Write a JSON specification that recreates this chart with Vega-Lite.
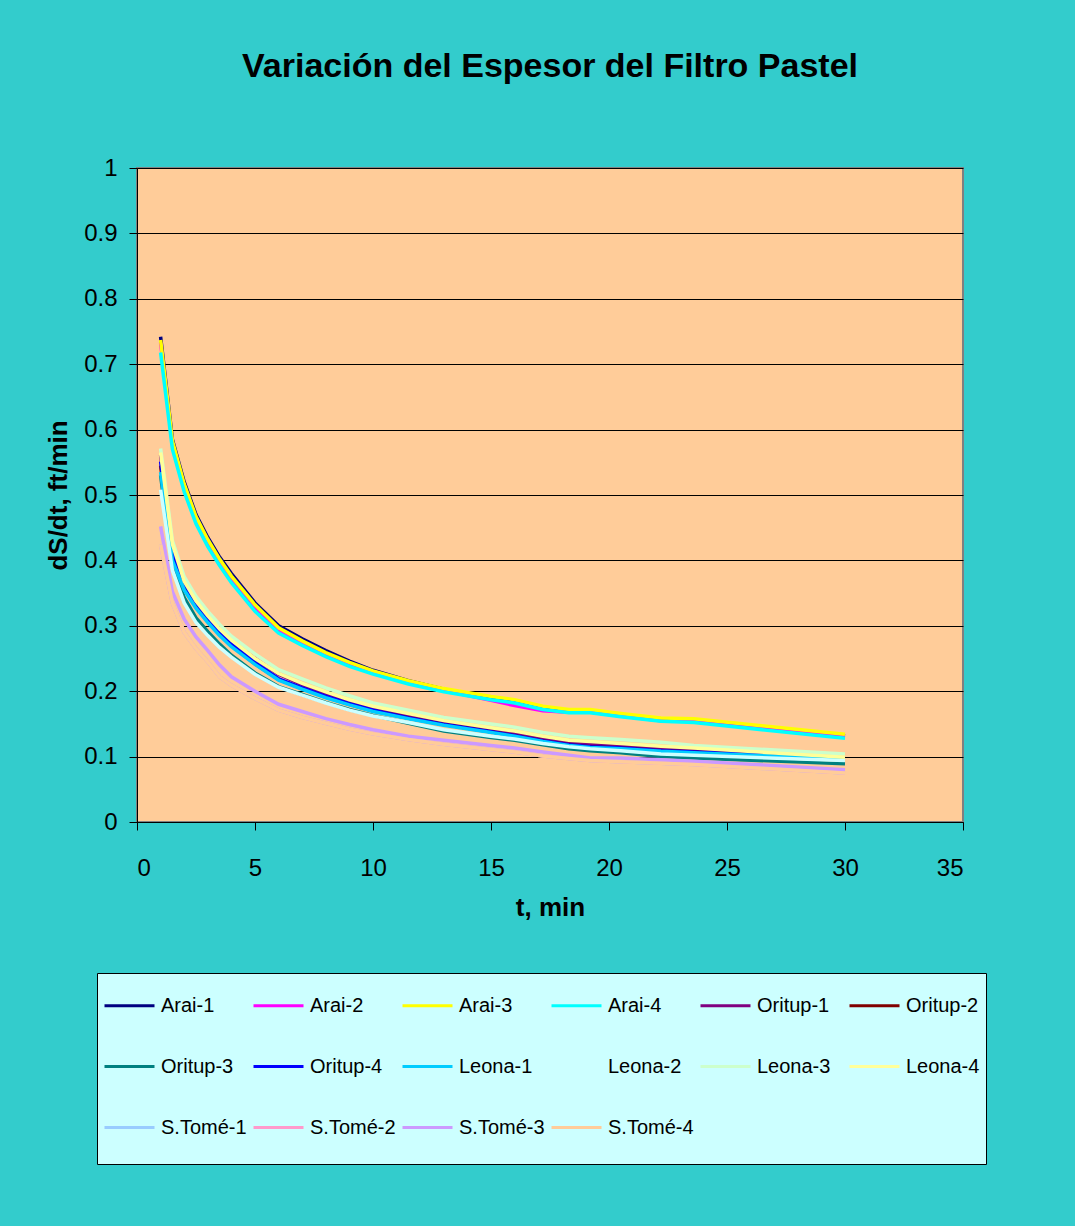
{
  "$schema": "https://vega.github.io/schema/vega-lite/v6.json",
  "width": 826,
  "height": 654,
  "autosize": {"type": "none"},
  "padding": {"left": 137, "top": 168, "right": 112, "bottom": 404},
  "background": "#33CCCC",
  "title": {
    "text": "Variación del Espesor del Filtro Pastel",
    "font": "Liberation Sans",
    "fontSize": 34,
    "fontWeight": "bold",
    "color": "#000000",
    "anchor": "middle",
    "frame": "group",
    "offset": 72
  },
  "data": {
    "values": [
      {"s": "Arai-1", "t": 1, "v": 0.742}, {"s": "Arai-1", "t": 1.5, "v": 0.585}, {"s": "Arai-1", "t": 2, "v": 0.52}, {"s": "Arai-1", "t": 2.5, "v": 0.47}, {"s": "Arai-1", "t": 3, "v": 0.435}, {"s": "Arai-1", "t": 3.5, "v": 0.405}, {"s": "Arai-1", "t": 4, "v": 0.38}, {"s": "Arai-1", "t": 5, "v": 0.335}, {"s": "Arai-1", "t": 6, "v": 0.3}, {"s": "Arai-1", "t": 7, "v": 0.28}, {"s": "Arai-1", "t": 8, "v": 0.262}, {"s": "Arai-1", "t": 9, "v": 0.246}, {"s": "Arai-1", "t": 10, "v": 0.232}, {"s": "Arai-1", "t": 11.5, "v": 0.216}, {"s": "Arai-1", "t": 13, "v": 0.203}, {"s": "Arai-1", "t": 15, "v": 0.19}, {"s": "Arai-1", "t": 16, "v": 0.185}, {"s": "Arai-1", "t": 17.2, "v": 0.175}, {"s": "Arai-1", "t": 18.3, "v": 0.17}, {"s": "Arai-1", "t": 19.2, "v": 0.17}, {"s": "Arai-1", "t": 20.5, "v": 0.164}, {"s": "Arai-1", "t": 22.2, "v": 0.157}, {"s": "Arai-1", "t": 23.6, "v": 0.156}, {"s": "Arai-1", "t": 30, "v": 0.132},

      {"s": "Arai-2", "t": 1, "v": 0.733}, {"s": "Arai-2", "t": 1.5, "v": 0.578}, {"s": "Arai-2", "t": 2, "v": 0.512}, {"s": "Arai-2", "t": 2.5, "v": 0.462}, {"s": "Arai-2", "t": 3, "v": 0.427}, {"s": "Arai-2", "t": 3.5, "v": 0.397}, {"s": "Arai-2", "t": 4, "v": 0.371}, {"s": "Arai-2", "t": 5, "v": 0.327}, {"s": "Arai-2", "t": 6, "v": 0.293}, {"s": "Arai-2", "t": 7, "v": 0.273}, {"s": "Arai-2", "t": 8, "v": 0.256}, {"s": "Arai-2", "t": 9, "v": 0.241}, {"s": "Arai-2", "t": 10, "v": 0.228}, {"s": "Arai-2", "t": 11.5, "v": 0.213}, {"s": "Arai-2", "t": 13, "v": 0.201}, {"s": "Arai-2", "t": 15, "v": 0.186}, {"s": "Arai-2", "t": 16, "v": 0.178}, {"s": "Arai-2", "t": 17.2, "v": 0.17}, {"s": "Arai-2", "t": 18.3, "v": 0.168}, {"s": "Arai-2", "t": 19.2, "v": 0.168}, {"s": "Arai-2", "t": 20.5, "v": 0.162}, {"s": "Arai-2", "t": 22.2, "v": 0.155}, {"s": "Arai-2", "t": 23.6, "v": 0.154}, {"s": "Arai-2", "t": 30, "v": 0.13},

      {"s": "Arai-3", "t": 1, "v": 0.737}, {"s": "Arai-3", "t": 1.5, "v": 0.583}, {"s": "Arai-3", "t": 2, "v": 0.517}, {"s": "Arai-3", "t": 2.5, "v": 0.467}, {"s": "Arai-3", "t": 3, "v": 0.432}, {"s": "Arai-3", "t": 3.5, "v": 0.402}, {"s": "Arai-3", "t": 4, "v": 0.376}, {"s": "Arai-3", "t": 5, "v": 0.332}, {"s": "Arai-3", "t": 6, "v": 0.297}, {"s": "Arai-3", "t": 7, "v": 0.277}, {"s": "Arai-3", "t": 8, "v": 0.259}, {"s": "Arai-3", "t": 9, "v": 0.244}, {"s": "Arai-3", "t": 10, "v": 0.231}, {"s": "Arai-3", "t": 11.5, "v": 0.216}, {"s": "Arai-3", "t": 13, "v": 0.204}, {"s": "Arai-3", "t": 15, "v": 0.192}, {"s": "Arai-3", "t": 16, "v": 0.187}, {"s": "Arai-3", "t": 17.2, "v": 0.177}, {"s": "Arai-3", "t": 18.3, "v": 0.172}, {"s": "Arai-3", "t": 19.2, "v": 0.172}, {"s": "Arai-3", "t": 20.5, "v": 0.166}, {"s": "Arai-3", "t": 22.2, "v": 0.159}, {"s": "Arai-3", "t": 23.6, "v": 0.158}, {"s": "Arai-3", "t": 30, "v": 0.134},

      {"s": "Arai-4", "t": 1, "v": 0.718}, {"s": "Arai-4", "t": 1.5, "v": 0.57}, {"s": "Arai-4", "t": 2, "v": 0.505}, {"s": "Arai-4", "t": 2.5, "v": 0.456}, {"s": "Arai-4", "t": 3, "v": 0.421}, {"s": "Arai-4", "t": 3.5, "v": 0.392}, {"s": "Arai-4", "t": 4, "v": 0.366}, {"s": "Arai-4", "t": 5, "v": 0.322}, {"s": "Arai-4", "t": 6, "v": 0.289}, {"s": "Arai-4", "t": 7, "v": 0.27}, {"s": "Arai-4", "t": 8, "v": 0.253}, {"s": "Arai-4", "t": 9, "v": 0.238}, {"s": "Arai-4", "t": 10, "v": 0.226}, {"s": "Arai-4", "t": 11.5, "v": 0.211}, {"s": "Arai-4", "t": 13, "v": 0.199}, {"s": "Arai-4", "t": 15, "v": 0.187}, {"s": "Arai-4", "t": 16, "v": 0.182}, {"s": "Arai-4", "t": 17.2, "v": 0.172}, {"s": "Arai-4", "t": 18.3, "v": 0.167}, {"s": "Arai-4", "t": 19.2, "v": 0.167}, {"s": "Arai-4", "t": 20.5, "v": 0.161}, {"s": "Arai-4", "t": 22.2, "v": 0.154}, {"s": "Arai-4", "t": 23.6, "v": 0.152}, {"s": "Arai-4", "t": 30, "v": 0.128},

      {"s": "Oritup-1", "t": 1, "v": 0.561}, {"s": "Oritup-1", "t": 1.5, "v": 0.42}, {"s": "Oritup-1", "t": 2, "v": 0.365}, {"s": "Oritup-1", "t": 2.5, "v": 0.335}, {"s": "Oritup-1", "t": 3, "v": 0.312}, {"s": "Oritup-1", "t": 3.5, "v": 0.292}, {"s": "Oritup-1", "t": 4, "v": 0.276}, {"s": "Oritup-1", "t": 5, "v": 0.25}, {"s": "Oritup-1", "t": 6, "v": 0.226}, {"s": "Oritup-1", "t": 7, "v": 0.21}, {"s": "Oritup-1", "t": 8, "v": 0.196}, {"s": "Oritup-1", "t": 9, "v": 0.185}, {"s": "Oritup-1", "t": 10, "v": 0.175}, {"s": "Oritup-1", "t": 11.5, "v": 0.163}, {"s": "Oritup-1", "t": 13, "v": 0.152}, {"s": "Oritup-1", "t": 15, "v": 0.141}, {"s": "Oritup-1", "t": 16, "v": 0.136}, {"s": "Oritup-1", "t": 17.2, "v": 0.128}, {"s": "Oritup-1", "t": 18.3, "v": 0.122}, {"s": "Oritup-1", "t": 19.2, "v": 0.119}, {"s": "Oritup-1", "t": 20.5, "v": 0.116}, {"s": "Oritup-1", "t": 22.2, "v": 0.112}, {"s": "Oritup-1", "t": 23.6, "v": 0.11}, {"s": "Oritup-1", "t": 30, "v": 0.098},

      {"s": "Oritup-2", "t": 1, "v": 0.545}, {"s": "Oritup-2", "t": 1.5, "v": 0.405}, {"s": "Oritup-2", "t": 2, "v": 0.358}, {"s": "Oritup-2", "t": 2.5, "v": 0.329}, {"s": "Oritup-2", "t": 3, "v": 0.307}, {"s": "Oritup-2", "t": 3.5, "v": 0.287}, {"s": "Oritup-2", "t": 4, "v": 0.27}, {"s": "Oritup-2", "t": 5, "v": 0.242}, {"s": "Oritup-2", "t": 6, "v": 0.218}, {"s": "Oritup-2", "t": 7, "v": 0.204}, {"s": "Oritup-2", "t": 8, "v": 0.191}, {"s": "Oritup-2", "t": 9, "v": 0.18}, {"s": "Oritup-2", "t": 10, "v": 0.17}, {"s": "Oritup-2", "t": 11.5, "v": 0.159}, {"s": "Oritup-2", "t": 13, "v": 0.149}, {"s": "Oritup-2", "t": 15, "v": 0.138}, {"s": "Oritup-2", "t": 16, "v": 0.132}, {"s": "Oritup-2", "t": 17.2, "v": 0.124}, {"s": "Oritup-2", "t": 18.3, "v": 0.118}, {"s": "Oritup-2", "t": 19.2, "v": 0.115}, {"s": "Oritup-2", "t": 20.5, "v": 0.113}, {"s": "Oritup-2", "t": 22.2, "v": 0.109}, {"s": "Oritup-2", "t": 23.6, "v": 0.107}, {"s": "Oritup-2", "t": 30, "v": 0.097},

      {"s": "Oritup-3", "t": 1, "v": 0.53}, {"s": "Oritup-3", "t": 1.5, "v": 0.39}, {"s": "Oritup-3", "t": 2, "v": 0.343}, {"s": "Oritup-3", "t": 2.5, "v": 0.312}, {"s": "Oritup-3", "t": 3, "v": 0.291}, {"s": "Oritup-3", "t": 3.5, "v": 0.272}, {"s": "Oritup-3", "t": 4, "v": 0.255}, {"s": "Oritup-3", "t": 5, "v": 0.228}, {"s": "Oritup-3", "t": 6, "v": 0.207}, {"s": "Oritup-3", "t": 7, "v": 0.195}, {"s": "Oritup-3", "t": 8, "v": 0.183}, {"s": "Oritup-3", "t": 9, "v": 0.172}, {"s": "Oritup-3", "t": 10, "v": 0.163}, {"s": "Oritup-3", "t": 11.5, "v": 0.151}, {"s": "Oritup-3", "t": 13, "v": 0.139}, {"s": "Oritup-3", "t": 15, "v": 0.129}, {"s": "Oritup-3", "t": 16, "v": 0.125}, {"s": "Oritup-3", "t": 17.2, "v": 0.118}, {"s": "Oritup-3", "t": 18.3, "v": 0.112}, {"s": "Oritup-3", "t": 19.2, "v": 0.109}, {"s": "Oritup-3", "t": 20.5, "v": 0.106}, {"s": "Oritup-3", "t": 22.2, "v": 0.1}, {"s": "Oritup-3", "t": 23.6, "v": 0.098}, {"s": "Oritup-3", "t": 30, "v": 0.089},

      {"s": "Oritup-4", "t": 1, "v": 0.551}, {"s": "Oritup-4", "t": 1.5, "v": 0.41}, {"s": "Oritup-4", "t": 2, "v": 0.365}, {"s": "Oritup-4", "t": 2.5, "v": 0.333}, {"s": "Oritup-4", "t": 3, "v": 0.31}, {"s": "Oritup-4", "t": 3.5, "v": 0.29}, {"s": "Oritup-4", "t": 4, "v": 0.272}, {"s": "Oritup-4", "t": 5, "v": 0.244}, {"s": "Oritup-4", "t": 6, "v": 0.219}, {"s": "Oritup-4", "t": 7, "v": 0.205}, {"s": "Oritup-4", "t": 8, "v": 0.192}, {"s": "Oritup-4", "t": 9, "v": 0.181}, {"s": "Oritup-4", "t": 10, "v": 0.171}, {"s": "Oritup-4", "t": 11.5, "v": 0.159}, {"s": "Oritup-4", "t": 13, "v": 0.149}, {"s": "Oritup-4", "t": 15, "v": 0.138}, {"s": "Oritup-4", "t": 16, "v": 0.132}, {"s": "Oritup-4", "t": 17.2, "v": 0.124}, {"s": "Oritup-4", "t": 18.3, "v": 0.118}, {"s": "Oritup-4", "t": 19.2, "v": 0.115}, {"s": "Oritup-4", "t": 20.5, "v": 0.113}, {"s": "Oritup-4", "t": 22.2, "v": 0.109}, {"s": "Oritup-4", "t": 23.6, "v": 0.107}, {"s": "Oritup-4", "t": 30, "v": 0.097},

      {"s": "Leona-1", "t": 1, "v": 0.535}, {"s": "Leona-1", "t": 1.5, "v": 0.4}, {"s": "Leona-1", "t": 2, "v": 0.355}, {"s": "Leona-1", "t": 2.5, "v": 0.327}, {"s": "Leona-1", "t": 3, "v": 0.305}, {"s": "Leona-1", "t": 3.5, "v": 0.285}, {"s": "Leona-1", "t": 4, "v": 0.268}, {"s": "Leona-1", "t": 5, "v": 0.241}, {"s": "Leona-1", "t": 6, "v": 0.217}, {"s": "Leona-1", "t": 7, "v": 0.203}, {"s": "Leona-1", "t": 8, "v": 0.19}, {"s": "Leona-1", "t": 9, "v": 0.179}, {"s": "Leona-1", "t": 10, "v": 0.169}, {"s": "Leona-1", "t": 11.5, "v": 0.158}, {"s": "Leona-1", "t": 13, "v": 0.148}, {"s": "Leona-1", "t": 15, "v": 0.137}, {"s": "Leona-1", "t": 16, "v": 0.131}, {"s": "Leona-1", "t": 17.2, "v": 0.123}, {"s": "Leona-1", "t": 18.3, "v": 0.117}, {"s": "Leona-1", "t": 19.2, "v": 0.114}, {"s": "Leona-1", "t": 20.5, "v": 0.112}, {"s": "Leona-1", "t": 22.2, "v": 0.108}, {"s": "Leona-1", "t": 23.6, "v": 0.106}, {"s": "Leona-1", "t": 30, "v": 0.096},

      {"s": "Leona-2", "t": 1, "v": 0.508}, {"s": "Leona-2", "t": 1.5, "v": 0.385}, {"s": "Leona-2", "t": 2, "v": 0.335}, {"s": "Leona-2", "t": 2.5, "v": 0.305}, {"s": "Leona-2", "t": 3, "v": 0.285}, {"s": "Leona-2", "t": 3.5, "v": 0.267}, {"s": "Leona-2", "t": 4, "v": 0.252}, {"s": "Leona-2", "t": 5, "v": 0.226}, {"s": "Leona-2", "t": 6, "v": 0.206}, {"s": "Leona-2", "t": 7, "v": 0.194}, {"s": "Leona-2", "t": 8, "v": 0.182}, {"s": "Leona-2", "t": 9, "v": 0.171}, {"s": "Leona-2", "t": 10, "v": 0.162}, {"s": "Leona-2", "t": 11.5, "v": 0.152}, {"s": "Leona-2", "t": 13, "v": 0.141}, {"s": "Leona-2", "t": 15, "v": 0.131}, {"s": "Leona-2", "t": 16, "v": 0.127}, {"s": "Leona-2", "t": 17.2, "v": 0.12}, {"s": "Leona-2", "t": 18.3, "v": 0.115}, {"s": "Leona-2", "t": 19.2, "v": 0.112}, {"s": "Leona-2", "t": 20.5, "v": 0.109}, {"s": "Leona-2", "t": 22.2, "v": 0.104}, {"s": "Leona-2", "t": 23.6, "v": 0.102}, {"s": "Leona-2", "t": 30, "v": 0.094},

      {"s": "Leona-3", "t": 1, "v": 0.571}, {"s": "Leona-3", "t": 1.5, "v": 0.43}, {"s": "Leona-3", "t": 2, "v": 0.375}, {"s": "Leona-3", "t": 2.5, "v": 0.345}, {"s": "Leona-3", "t": 3, "v": 0.322}, {"s": "Leona-3", "t": 3.5, "v": 0.302}, {"s": "Leona-3", "t": 4, "v": 0.284}, {"s": "Leona-3", "t": 5, "v": 0.257}, {"s": "Leona-3", "t": 6, "v": 0.233}, {"s": "Leona-3", "t": 7, "v": 0.219}, {"s": "Leona-3", "t": 8, "v": 0.205}, {"s": "Leona-3", "t": 9, "v": 0.193}, {"s": "Leona-3", "t": 10, "v": 0.182}, {"s": "Leona-3", "t": 11.5, "v": 0.171}, {"s": "Leona-3", "t": 13, "v": 0.16}, {"s": "Leona-3", "t": 15, "v": 0.15}, {"s": "Leona-3", "t": 16, "v": 0.145}, {"s": "Leona-3", "t": 17.2, "v": 0.137}, {"s": "Leona-3", "t": 18.3, "v": 0.131}, {"s": "Leona-3", "t": 19.2, "v": 0.129}, {"s": "Leona-3", "t": 20.5, "v": 0.126}, {"s": "Leona-3", "t": 22.2, "v": 0.122}, {"s": "Leona-3", "t": 23.6, "v": 0.117}, {"s": "Leona-3", "t": 30, "v": 0.104},

      {"s": "Leona-4", "t": 1, "v": 0.565}, {"s": "Leona-4", "t": 1.5, "v": 0.425}, {"s": "Leona-4", "t": 2, "v": 0.368}, {"s": "Leona-4", "t": 2.5, "v": 0.338}, {"s": "Leona-4", "t": 3, "v": 0.315}, {"s": "Leona-4", "t": 3.5, "v": 0.295}, {"s": "Leona-4", "t": 4, "v": 0.278}, {"s": "Leona-4", "t": 5, "v": 0.25}, {"s": "Leona-4", "t": 6, "v": 0.227}, {"s": "Leona-4", "t": 7, "v": 0.212}, {"s": "Leona-4", "t": 8, "v": 0.199}, {"s": "Leona-4", "t": 9, "v": 0.187}, {"s": "Leona-4", "t": 10, "v": 0.177}, {"s": "Leona-4", "t": 11.5, "v": 0.166}, {"s": "Leona-4", "t": 13, "v": 0.155}, {"s": "Leona-4", "t": 15, "v": 0.144}, {"s": "Leona-4", "t": 16, "v": 0.139}, {"s": "Leona-4", "t": 17.2, "v": 0.131}, {"s": "Leona-4", "t": 18.3, "v": 0.125}, {"s": "Leona-4", "t": 19.2, "v": 0.123}, {"s": "Leona-4", "t": 20.5, "v": 0.12}, {"s": "Leona-4", "t": 22.2, "v": 0.116}, {"s": "Leona-4", "t": 23.6, "v": 0.113}, {"s": "Leona-4", "t": 30, "v": 0.099},

      {"s": "S.Tomé-1", "t": 1, "v": 0.424}, {"s": "S.Tomé-1", "t": 1.5, "v": 0.335}, {"s": "S.Tomé-1", "t": 2, "v": 0.29}, {"s": "S.Tomé-1", "t": 2.5, "v": 0.265}, {"s": "S.Tomé-1", "t": 3, "v": 0.245}, {"s": "S.Tomé-1", "t": 3.5, "v": 0.222}, {"s": "S.Tomé-1", "t": 4, "v": 0.209}, {"s": "S.Tomé-1", "t": 5, "v": 0.189}, {"s": "S.Tomé-1", "t": 6, "v": 0.171}, {"s": "S.Tomé-1", "t": 7, "v": 0.16}, {"s": "S.Tomé-1", "t": 8, "v": 0.151}, {"s": "S.Tomé-1", "t": 9, "v": 0.142}, {"s": "S.Tomé-1", "t": 10, "v": 0.135}, {"s": "S.Tomé-1", "t": 11.5, "v": 0.126}, {"s": "S.Tomé-1", "t": 13, "v": 0.119}, {"s": "S.Tomé-1", "t": 15, "v": 0.111}, {"s": "S.Tomé-1", "t": 16, "v": 0.107}, {"s": "S.Tomé-1", "t": 17.2, "v": 0.101}, {"s": "S.Tomé-1", "t": 18.3, "v": 0.097}, {"s": "S.Tomé-1", "t": 19.2, "v": 0.094}, {"s": "S.Tomé-1", "t": 20.5, "v": 0.092}, {"s": "S.Tomé-1", "t": 22.2, "v": 0.09}, {"s": "S.Tomé-1", "t": 23.6, "v": 0.088}, {"s": "S.Tomé-1", "t": 30, "v": 0.075},

      {"s": "S.Tomé-2", "t": 1, "v": 0.424}, {"s": "S.Tomé-2", "t": 1.5, "v": 0.335}, {"s": "S.Tomé-2", "t": 2, "v": 0.29}, {"s": "S.Tomé-2", "t": 2.5, "v": 0.265}, {"s": "S.Tomé-2", "t": 3, "v": 0.245}, {"s": "S.Tomé-2", "t": 3.5, "v": 0.222}, {"s": "S.Tomé-2", "t": 4, "v": 0.209}, {"s": "S.Tomé-2", "t": 5, "v": 0.189}, {"s": "S.Tomé-2", "t": 6, "v": 0.171}, {"s": "S.Tomé-2", "t": 7, "v": 0.16}, {"s": "S.Tomé-2", "t": 8, "v": 0.151}, {"s": "S.Tomé-2", "t": 9, "v": 0.142}, {"s": "S.Tomé-2", "t": 10, "v": 0.135}, {"s": "S.Tomé-2", "t": 11.5, "v": 0.126}, {"s": "S.Tomé-2", "t": 13, "v": 0.119}, {"s": "S.Tomé-2", "t": 15, "v": 0.111}, {"s": "S.Tomé-2", "t": 16, "v": 0.107}, {"s": "S.Tomé-2", "t": 17.2, "v": 0.101}, {"s": "S.Tomé-2", "t": 18.3, "v": 0.097}, {"s": "S.Tomé-2", "t": 19.2, "v": 0.094}, {"s": "S.Tomé-2", "t": 20.5, "v": 0.092}, {"s": "S.Tomé-2", "t": 22.2, "v": 0.09}, {"s": "S.Tomé-2", "t": 23.6, "v": 0.088}, {"s": "S.Tomé-2", "t": 30, "v": 0.075},

      {"s": "S.Tomé-3", "t": 1, "v": 0.452}, {"s": "S.Tomé-3", "t": 1.5, "v": 0.352}, {"s": "S.Tomé-3", "t": 2, "v": 0.31}, {"s": "S.Tomé-3", "t": 2.5, "v": 0.283}, {"s": "S.Tomé-3", "t": 3, "v": 0.262}, {"s": "S.Tomé-3", "t": 3.5, "v": 0.24}, {"s": "S.Tomé-3", "t": 4, "v": 0.222}, {"s": "S.Tomé-3", "t": 5, "v": 0.2}, {"s": "S.Tomé-3", "t": 6, "v": 0.18}, {"s": "S.Tomé-3", "t": 7, "v": 0.169}, {"s": "S.Tomé-3", "t": 8, "v": 0.158}, {"s": "S.Tomé-3", "t": 9, "v": 0.149}, {"s": "S.Tomé-3", "t": 10, "v": 0.141}, {"s": "S.Tomé-3", "t": 11.5, "v": 0.131}, {"s": "S.Tomé-3", "t": 13, "v": 0.125}, {"s": "S.Tomé-3", "t": 15, "v": 0.117}, {"s": "S.Tomé-3", "t": 16, "v": 0.113}, {"s": "S.Tomé-3", "t": 17.2, "v": 0.107}, {"s": "S.Tomé-3", "t": 18.3, "v": 0.102}, {"s": "S.Tomé-3", "t": 19.2, "v": 0.098}, {"s": "S.Tomé-3", "t": 20.5, "v": 0.098}, {"s": "S.Tomé-3", "t": 22.2, "v": 0.095}, {"s": "S.Tomé-3", "t": 23.6, "v": 0.093}, {"s": "S.Tomé-3", "t": 30, "v": 0.08},

      {"s": "S.Tomé-4", "t": 1, "v": 0.424}, {"s": "S.Tomé-4", "t": 1.5, "v": 0.335}, {"s": "S.Tomé-4", "t": 2, "v": 0.29}, {"s": "S.Tomé-4", "t": 2.5, "v": 0.265}, {"s": "S.Tomé-4", "t": 3, "v": 0.245}, {"s": "S.Tomé-4", "t": 3.5, "v": 0.222}, {"s": "S.Tomé-4", "t": 4, "v": 0.209}, {"s": "S.Tomé-4", "t": 5, "v": 0.189}, {"s": "S.Tomé-4", "t": 6, "v": 0.171}, {"s": "S.Tomé-4", "t": 7, "v": 0.16}, {"s": "S.Tomé-4", "t": 8, "v": 0.151}, {"s": "S.Tomé-4", "t": 9, "v": 0.142}, {"s": "S.Tomé-4", "t": 10, "v": 0.135}, {"s": "S.Tomé-4", "t": 11.5, "v": 0.126}, {"s": "S.Tomé-4", "t": 13, "v": 0.119}, {"s": "S.Tomé-4", "t": 15, "v": 0.111}, {"s": "S.Tomé-4", "t": 16, "v": 0.107}, {"s": "S.Tomé-4", "t": 17.2, "v": 0.101}, {"s": "S.Tomé-4", "t": 18.3, "v": 0.097}, {"s": "S.Tomé-4", "t": 19.2, "v": 0.094}, {"s": "S.Tomé-4", "t": 20.5, "v": 0.092}, {"s": "S.Tomé-4", "t": 22.2, "v": 0.09}, {"s": "S.Tomé-4", "t": 23.6, "v": 0.088}, {"s": "S.Tomé-4", "t": 30, "v": 0.075}
    ]
  },
  "mark": {"type": "line", "strokeWidth": 3.5, "clip": true},
  "encoding": {
    "x": {
      "field": "t",
      "type": "quantitative",
      "scale": {"domain": [0, 35], "nice": false, "zero": false},
      "axis": {
        "title": "t, min",
        "values": [0, 5, 10, 15, 20, 25, 30, 35],
        "grid": false,
        "domainColor": "#000000",
        "domainWidth": 1,
        "tickColor": "#000000",
        "tickSize": 8,
        "labelFont": "Liberation Sans",
        "labelFontSize": 24,
        "labelColor": "#000000",
        "labelPadding": 26,
        "titleFont": "Liberation Sans",
        "titleFontSize": 26,
        "titleFontWeight": "bold",
        "titleColor": "#000000",
        "titlePadding": 14
      }
    },
    "y": {
      "field": "v",
      "type": "quantitative",
      "scale": {"domain": [0, 1], "nice": false},
      "axis": {
        "title": "dS/dt, ft/min",
        "values": [0, 0.1, 0.2, 0.3, 0.4, 0.5, 0.6, 0.7, 0.8, 0.9, 1],
        "format": ".1~f",
        "grid": true,
        "gridColor": "#000000",
        "gridWidth": 1,
        "gridOpacity": 1,
        "domainColor": "#000000",
        "domainWidth": 1,
        "tickColor": "#000000",
        "tickSize": 8,
        "labelFont": "Liberation Sans",
        "labelFontSize": 24,
        "labelColor": "#000000",
        "labelPadding": 12,
        "titleFont": "Liberation Sans",
        "titleFontSize": 26,
        "titleFontWeight": "bold",
        "titleColor": "#000000",
        "titlePadding": 12
      }
    },
    "color": {
      "field": "s",
      "type": "nominal",
      "scale": {
        "domain": ["Arai-1", "Arai-2", "Arai-3", "Arai-4", "Oritup-1", "Oritup-2", "Oritup-3", "Oritup-4", "Leona-1", "Leona-2", "Leona-3", "Leona-4", "S.Tomé-1", "S.Tomé-2", "S.Tomé-3", "S.Tomé-4"],
        "range": ["#000080", "#FF00FF", "#FFFF00", "#00FFFF", "#800080", "#800000", "#008080", "#0000FF", "#00CCFF", "#CCFFFF", "#CCFFCC", "#FFFF99", "#99CCFF", "#FF99CC", "#CC99FF", "#FFCC99"]
      },
      "legend": {
        "title": " ",
        "titleOrient": "bottom",
        "titleFontSize": 14,
        "titlePadding": 6,
        "orient": "none",
        "legendX": -40,
        "legendY": 805,
        "direction": "horizontal",
        "columns": 6,
        "gridAlign": "all",
        "symbolType": "stroke",
        "symbolSize": 2500,
        "symbolStrokeWidth": 3,
        "labelFont": "Liberation Sans",
        "labelFontSize": 20,
        "labelColor": "#000000",
        "labelOffset": 5,
        "labelLimit": 200,
        "fillColor": "#CCFFFF",
        "strokeColor": "#000000",
        "padding": 6,
        "rowPadding": 24,
        "columnPadding": 0
      }
    }
  },
  "config": {
    "view": {"fill": "#FFCC99", "stroke": "#808080", "strokeWidth": 2}
  }
}
